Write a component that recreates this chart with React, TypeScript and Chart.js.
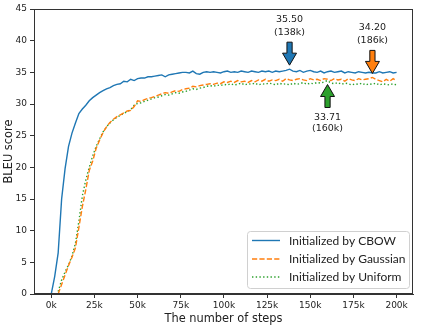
import React, { useEffect, useRef } from "react";
import { Chart, registerables } from "chart.js";

Chart.register(...registerables);

// Training steps at which BLEU was evaluated
const steps = [
  0, 2000, 4000, 6000, 8000, 10000, 12000, 14000, 16000, 18000,
  20000, 22000, 24000, 26000, 28000, 30000, 32000, 34000, 36000, 38000,
  40000, 42000, 44000, 46000, 48000, 50000, 52000, 54000, 56000, 58000,
  60000, 62000, 64000, 66000, 68000, 70000, 72000, 74000, 76000, 78000,
  80000, 82000, 84000, 86000, 88000, 90000, 92000, 94000, 96000, 98000,
  100000, 102000, 104000, 106000, 108000, 110000, 112000, 114000, 116000, 118000,
  120000, 122000, 124000, 126000, 128000, 130000, 132000, 134000, 136000, 138000,
  140000, 142000, 144000, 146000, 148000, 150000, 152000, 154000, 156000, 158000,
  160000, 162000, 164000, 166000, 168000, 170000, 172000, 174000, 176000, 178000,
  180000, 182000, 184000, 186000, 188000, 190000, 192000, 194000, 196000, 198000,
  200000,
];

const cbow = [
  0, 2.8, 6.5, 15.0, 19.8, 23.3, 25.4, 27.0, 28.5, 29.2,
  29.8, 30.5, 31.0, 31.4, 31.8, 32.1, 32.4, 32.6, 32.9, 33.1,
  33.2, 33.6, 33.5, 33.9, 33.7, 34.0, 34.1, 34.1, 34.3, 34.3,
  34.4, 34.5, 34.6, 34.3, 34.6, 34.7, 34.8, 34.9, 35.0, 35.0,
  34.9, 35.2, 34.8, 34.7, 35.0, 35.1, 35.0, 35.1, 35.0, 34.9,
  35.1, 35.2, 35.0, 35.1, 35.0, 35.2, 35.1, 35.0, 35.2, 35.1,
  35.0, 35.2, 35.1, 35.2, 35.0, 35.2, 35.1, 35.2, 35.3, 35.5,
  35.2, 35.1, 35.3, 35.0, 35.2, 35.3, 35.1, 35.0, 35.2, 34.9,
  35.1, 35.2, 35.0, 35.1, 35.2, 34.9, 35.1, 35.0, 34.9, 35.1,
  35.0, 34.9, 35.0, 34.9, 34.9, 35.1, 34.9, 35.0, 35.1, 34.9,
  35.0,
];

const gaussian = [
  null, null, 0, 1.5, 3.0, 4.5, 5.8, 7.3, 10.5, 13.8,
  16.5, 19.5, 21.0, 23.0, 24.3, 25.5, 26.4, 27.1, 27.6, 28.0,
  28.3, 28.6, 28.9, 29.0, 29.6, 30.5, 30.4, 30.7, 30.9, 31.0,
  31.2, 31.4, 31.6, 31.8, 31.7, 31.9, 32.1, 32.0, 32.3, 32.4,
  32.5, 32.8, 32.7, 32.9, 33.0, 33.1, 33.2, 33.1, 33.3, 33.2,
  33.5, 33.4, 33.6, 33.4, 33.7, 33.5, 33.6, 33.4, 33.7, 33.5,
  33.8, 33.6, 33.9, 33.6, 33.8, 33.7, 33.9, 33.6, 34.0, 33.8,
  33.7, 33.9, 34.0, 33.8, 33.7, 34.0, 33.8, 33.9, 33.7, 34.0,
  33.9, 33.7, 34.0, 33.8, 33.9, 33.6, 34.0, 33.8, 33.7, 34.0,
  33.8, 33.9, 34.0, 34.2, 33.9, 33.7, 33.5, 33.9, 33.6, 34.0,
  33.7,
];

const uniform = [
  null, null, 0.4, 2.2, 3.5, 4.6, 6.0, 8.0, 11.5, 15.5,
  18.0, 20.0, 21.8, 23.3, 24.5, 25.6, 26.4, 27.0, 27.5, 27.9,
  28.2, 28.5, 28.8, 29.1, 29.8, 30.1, 30.2, 30.4, 30.6, 30.8,
  31.0, 31.1, 31.3, 31.5, 31.4, 31.6, 31.8, 31.7, 31.9, 32.0,
  32.2, 32.4, 32.3, 32.5, 32.6, 32.8, 32.9, 32.8, 33.0, 32.9,
  33.1, 33.0, 33.2, 33.0, 33.1, 33.3, 33.0, 33.2, 33.1, 33.3,
  33.0, 33.2, 33.1, 33.3, 33.2, 33.0, 33.3, 33.1, 33.2, 33.0,
  33.3, 33.1, 33.2, 33.4, 33.1, 33.3, 33.2, 33.4, 33.3, 33.5,
  33.71, 33.3, 33.2, 33.4, 33.1, 33.3, 33.2, 33.0, 33.2, 33.1,
  33.3, 33.0, 33.2, 33.1, 33.3, 33.0, 33.2, 33.1, 33.0, 33.2,
  33.0,
];

const seriesNames = ["Initialized by CBOW", "Initialized by Gaussian", "Initialized by Uniform"];
const seriesColors = ["#1f77b4", "#ff7f0e", "#2ca02c"];
const seriesDashes = [[], [5.2, 2.2], [1.4, 2.3]];

const xTickValues = [0, 25000, 50000, 75000, 100000, 125000, 150000, 175000, 200000];

// Best score of each run, marked with an arrow
const bestSteps = [138000, 186000, 160000];
const bestScores = [35.5, 34.2, 33.71];
const bestPointDown = [true, true, false];

const TEXT = "#222";

function drawArrow(ctx: CanvasRenderingContext2D, x: number, tipY: number, down: boolean, color: string) {
  const d = down ? 1 : -1;
  const tailY = tipY - d * 23;
  const baseY = tipY - d * 12;
  ctx.beginPath();
  ctx.moveTo(x - 2.6, tailY);
  ctx.lineTo(x - 2.6, baseY);
  ctx.lineTo(x - 7, baseY);
  ctx.lineTo(x, tipY);
  ctx.lineTo(x + 7, baseY);
  ctx.lineTo(x + 2.6, baseY);
  ctx.lineTo(x + 2.6, tailY);
  ctx.closePath();
  ctx.fillStyle = color;
  ctx.fill();
  ctx.strokeStyle = "#111";
  ctx.lineWidth = 1;
  ctx.stroke();
  return tailY;
}

const decorPlugin = {
  id: "decor",
  afterDatasetsDraw(chart: any) {
    const { ctx, chartArea, scales } = chart;
    const xs = scales.x;
    const ys = scales.y;
    ctx.save();

    // frame
    ctx.strokeStyle = "#333";
    ctx.lineWidth = 1;
    ctx.strokeRect(
      Math.round(chartArea.left) + 0.5,
      Math.round(chartArea.top) + 0.5,
      Math.round(chartArea.right - chartArea.left) - 1,
      Math.round(chartArea.bottom - chartArea.top) - 1
    );

    // best-score arrows
    ctx.font = '9.5px "DejaVu Sans"';
    ctx.textAlign = "center";
    ctx.textBaseline = "middle";
    bestSteps.forEach((s, i) => {
      const px = xs.getPixelForValue(s);
      const py = ys.getPixelForValue(bestScores[i]);
      const down = bestPointDown[i];
      const tipY = down ? py - 4 : py + 4;
      const tailY = drawArrow(ctx, px, tipY, down, seriesColors[i]);
      const l1 = bestScores[i].toFixed(2);
      const l2 = "(" + s / 1000 + "k)";
      ctx.fillStyle = TEXT;
      if (down) {
        ctx.fillText(l1, px, tailY - 23);
        ctx.fillText(l2, px, tailY - 10);
      } else {
        ctx.fillText(l1, px, tailY + 10);
        ctx.fillText(l2, px, tailY + 21);
      }
    });

    // legend
    const bw = 162;
    const bh = 57;
    const bx = chartArea.right - 4 - bw;
    const by = chartArea.bottom - 6 - bh;
    ctx.beginPath();
    ctx.roundRect(bx + 0.5, by + 0.5, bw, bh, 3);
    ctx.fillStyle = "rgba(255,255,255,0.8)";
    ctx.fill();
    ctx.strokeStyle = "#d0d0d0";
    ctx.lineWidth = 1;
    ctx.stroke();
    ctx.font = '12px "Lato"';
    ctx.textAlign = "left";
    ctx.textBaseline = "middle";
    const rows = [9.5, 28, 46];
    seriesNames.forEach((name, i) => {
      const y = by + rows[i];
      ctx.beginPath();
      ctx.setLineDash(seriesDashes[i]);
      ctx.moveTo(bx + 5, y);
      ctx.lineTo(bx + 33, y);
      ctx.strokeStyle = seriesColors[i];
      ctx.lineWidth = 1.4;
      ctx.stroke();
      ctx.setLineDash([]);
      ctx.fillStyle = TEXT;
      ctx.fillText(name, bx + 42, y + 0.5);
    });

    // axis titles
    ctx.fillStyle = TEXT;
    ctx.font = '11.4px "DejaVu Sans"';
    ctx.textAlign = "center";
    ctx.textBaseline = "middle";
    ctx.fillText("The number of steps", (chartArea.left + chartArea.right) / 2, 319.5);
    ctx.translate(9, (chartArea.top + chartArea.bottom) / 2);
    ctx.rotate(-Math.PI / 2);
    ctx.fillText("BLEU score", 0, 0);
    ctx.restore();
  },
};

export default function App() {
  const canvasRef = useRef<HTMLCanvasElement | null>(null);

  useEffect(() => {
    if (!canvasRef.current) return;
    const mk = (vals: (number | null)[]) => steps.map((s, i) => ({ x: s, y: vals[i] }));
    const all = [cbow, gaussian, uniform];
    const chart = new Chart(canvasRef.current, {
      type: "line",
      data: {
        datasets: all.map((vals, i) => ({
          label: seriesNames[i],
          data: mk(vals) as any,
          borderColor: seriesColors[i],
          borderWidth: 1.4,
          borderDash: seriesDashes[i],
          pointRadius: 0,
          tension: 0,
          fill: false,
          spanGaps: false,
        })),
      },
      options: {
        animation: false,
        responsive: false,
        devicePixelRatio: 1,
        layout: { padding: { left: 0, right: 8, top: 9, bottom: 0 } },
        plugins: { legend: { display: false }, tooltip: { enabled: false } },
        scales: {
          x: {
            type: "linear",
            min: -10000,
            max: 209500,
            afterBuildTicks: (scale: any) => {
              scale.ticks = xTickValues.map((v) => ({ value: v }));
            },
            afterFit: (scale: any) => {
              scale.height = 32;
            },
            grid: { drawOnChartArea: false, drawTicks: true, tickLength: 4, color: "#333" },
            border: { display: true, color: "#333" },
            ticks: {
              font: { family: "DejaVu Sans", size: 9 },
              color: TEXT,
              padding: 2,
              maxRotation: 0,
              autoSkip: false,
              callback: (v: any) => Number(v) / 1000 + "k",
            },
          },
          y: {
            min: 0,
            max: 45,
            afterFit: (scale: any) => {
              scale.width = 34;
            },
            grid: { drawOnChartArea: false, drawTicks: true, tickLength: 4, color: "#333" },
            border: { display: true, color: "#333" },
            ticks: {
              stepSize: 5,
              font: { family: "DejaVu Sans", size: 9 },
              color: TEXT,
              padding: 3,
            },
          },
        },
      },
      plugins: [decorPlugin],
    });
    return () => chart.destroy();
  }, []);

  return (
    <div style={{ position: "fixed", left: 0, top: 0, width: 421, height: 326, background: "#fff" }}>
      <canvas ref={canvasRef} width={421} height={326} style={{ width: 421, height: 326 }} />
    </div>
  );
}
